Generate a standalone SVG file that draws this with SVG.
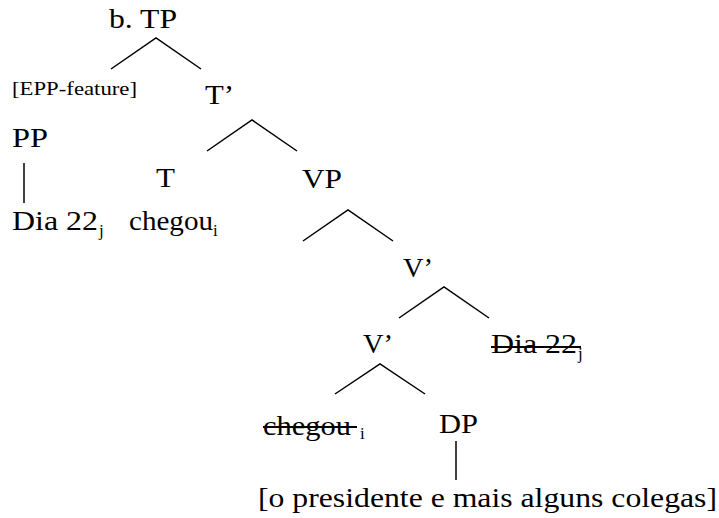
<svg xmlns="http://www.w3.org/2000/svg" width="719" height="518" viewBox="0 0 719 518">
<rect width="719" height="518" fill="#fff"/>
<g id="connectors" stroke="#000" stroke-width="1.5" fill="none">
<polyline points="111,69 156,38 201,69"/>
<polyline points="207,151 252,120 297,151"/>
<line x1="24" y1="163" x2="24" y2="203"/>
<polyline points="303,241 348,210 393,241"/>
<polyline points="399,318 444,287 489,318"/>
<polyline points="335,394 380,364 425,394"/>
<line x1="456" y1="441" x2="456" y2="480"/>
</g>
<g id="TP"><text x="109" y="28" font-family="Liberation Serif" font-size="27" textLength="68" lengthAdjust="spacingAndGlyphs">b. TP</text></g>
<g id="EPP"><text x="12" y="95" font-family="Liberation Serif" font-size="19" textLength="125" lengthAdjust="spacingAndGlyphs">[EPP-feature]</text></g>
<g id="Tbar"><text x="205" y="104" font-family="Liberation Serif" font-size="27" textLength="29" lengthAdjust="spacingAndGlyphs">T&#8217;</text></g>
<g id="PP"><text x="12" y="147" font-family="Liberation Serif" font-size="27" textLength="36" lengthAdjust="spacingAndGlyphs">PP</text></g>
<g id="T"><text x="156" y="187" font-family="Liberation Serif" font-size="27" textLength="19" lengthAdjust="spacingAndGlyphs">T</text></g>
<g id="VP"><text x="302" y="188" font-family="Liberation Serif" font-size="27" textLength="40" lengthAdjust="spacingAndGlyphs">VP</text></g>
<g id="Dia22"><text x="12" y="230" font-family="Liberation Serif" font-size="27" textLength="86" lengthAdjust="spacingAndGlyphs">Dia 22</text><text x="99" y="236" font-family="Liberation Serif" font-size="17">j</text></g>
<g id="chegou"><text x="129" y="230" font-family="Liberation Serif" font-size="27" textLength="84" lengthAdjust="spacingAndGlyphs">chegou</text><text x="213" y="236" font-family="Liberation Serif" font-size="17">i</text></g>
<g id="Vbar1"><text x="403" y="277" font-family="Liberation Serif" font-size="27" textLength="30" lengthAdjust="spacingAndGlyphs">V&#8217;</text></g>
<g id="Vbar2"><text x="363" y="353" font-family="Liberation Serif" font-size="27" textLength="30" lengthAdjust="spacingAndGlyphs">V&#8217;</text></g>
<g id="Dia22trace"><text x="491" y="353" font-family="Liberation Serif" font-size="27" textLength="86" lengthAdjust="spacingAndGlyphs">Dia 22</text><text x="578" y="359" font-family="Liberation Serif" font-size="17">j</text><line stroke="#000" stroke-width="2" x1="491" y1="347" x2="581" y2="347"/></g>
<g id="chegoutrace"><text x="263" y="435" font-family="Liberation Serif" font-size="27" textLength="88" lengthAdjust="spacingAndGlyphs">chegou</text><text x="360" y="439" font-family="Liberation Serif" font-size="17">i</text><line stroke="#000" stroke-width="2" x1="263" y1="427" x2="357" y2="427"/></g>
<g id="DP"><text x="439" y="433" font-family="Liberation Serif" font-size="27" textLength="39" lengthAdjust="spacingAndGlyphs">DP</text></g>
<g id="DPtext"><text x="258" y="507" font-family="Liberation Serif" font-size="27" textLength="459" lengthAdjust="spacingAndGlyphs">[o presidente e mais alguns colegas]</text></g>
</svg>
